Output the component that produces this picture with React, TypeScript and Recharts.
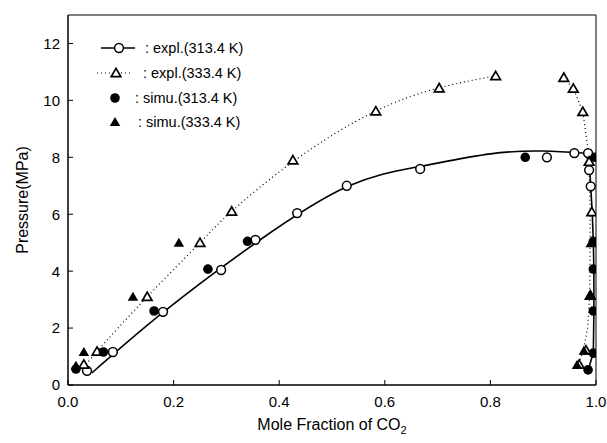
import React from "react";
import { ScatterChart, Scatter, XAxis, YAxis, ReferenceArea, Legend } from "recharts";

type Pt = { x: number; y: number };

const FONT = '"Liberation Sans", Arial, sans-serif';

const xTicks = [0, 0.2, 0.4, 0.6, 0.8, 1.0];
const yTicks = [0, 2, 4, 6, 8, 10, 12];

const seriesNames = [
  ": expl.(313.4 K)",
  ": expl.(333.4 K)",
  ": simu.(313.4 K)",
  ": simu.(333.4 K)",
];

// experimental points, 313.4 K (open circles)
const expl313: Pt[] = [
  { x: 0.036, y: 0.5 }, { x: 0.085, y: 1.16 }, { x: 0.18, y: 2.57 },
  { x: 0.29, y: 4.04 }, { x: 0.355, y: 5.1 }, { x: 0.434, y: 6.04 },
  { x: 0.528, y: 7.0 }, { x: 0.667, y: 7.59 }, { x: 0.907, y: 8.0 },
  { x: 0.959, y: 8.15 }, { x: 0.985, y: 8.15 }, { x: 0.987, y: 7.55 },
  { x: 0.99, y: 6.98 },
];

// experimental points, 333.4 K (open triangles)
const expl333: Pt[] = [
  { x: 0.03, y: 0.72 }, { x: 0.055, y: 1.18 }, { x: 0.15, y: 3.1 },
  { x: 0.25, y: 5.0 }, { x: 0.31, y: 6.1 }, { x: 0.426, y: 7.9 },
  { x: 0.583, y: 9.62 }, { x: 0.703, y: 10.43 }, { x: 0.81, y: 10.86 },
  { x: 0.939, y: 10.8 }, { x: 0.957, y: 10.42 }, { x: 0.975, y: 9.6 },
  { x: 0.987, y: 7.85 }, { x: 0.992, y: 6.08 }, { x: 0.992, y: 5.0 },
  { x: 0.989, y: 3.15 }, { x: 0.981, y: 1.22 }, { x: 0.968, y: 0.72 },
];

// simulation, 313.4 K (filled circles)
const simu313: Pt[] = [
  { x: 0.015, y: 0.56 }, { x: 0.067, y: 1.16 }, { x: 0.163, y: 2.6 },
  { x: 0.265, y: 4.07 }, { x: 0.34, y: 5.05 }, { x: 0.866, y: 8.0 },
  { x: 0.998, y: 8.0 }, { x: 0.995, y: 5.05 }, { x: 0.995, y: 4.07 },
  { x: 0.995, y: 2.6 }, { x: 0.995, y: 1.12 }, { x: 0.985, y: 0.53 },
];

// simulation, 333.4 K (filled triangles)
const simu333: Pt[] = [
  { x: 0.015, y: 0.68 }, { x: 0.03, y: 1.16 }, { x: 0.123, y: 3.1 },
  { x: 0.21, y: 5.0 }, { x: 0.993, y: 5.0 }, { x: 0.99, y: 3.16 },
  { x: 0.977, y: 1.2 }, { x: 0.964, y: 0.7 },
];

// fitted curves
const fit313Liquid: Pt[] = [
  { x: 0.045, y: 0.42 }, { x: 0.18, y: 2.55 }, { x: 0.36, y: 5.05 },
  { x: 0.53, y: 6.98 }, { x: 0.667, y: 7.68 }, { x: 0.8, y: 8.12 },
  { x: 0.9, y: 8.22 }, { x: 0.975, y: 8.15 },
];
const fit313Vapor: Pt[] = [
  { x: 0.975, y: 8.15 }, { x: 0.987, y: 7.9 }, { x: 0.99, y: 7.0 },
  { x: 0.993, y: 6.0 }, { x: 0.995, y: 5.0 }, { x: 0.996, y: 4.0 },
  { x: 0.996, y: 2.6 }, { x: 0.995, y: 1.15 }, { x: 0.985, y: 0.5 },
];
const fit333Liquid: Pt[] = [
  { x: 0.03, y: 0.62 }, { x: 0.055, y: 1.18 }, { x: 0.15, y: 3.1 },
  { x: 0.25, y: 5.0 }, { x: 0.31, y: 6.1 }, { x: 0.43, y: 7.9 },
  { x: 0.58, y: 9.6 }, { x: 0.705, y: 10.45 }, { x: 0.81, y: 10.86 },
];
const fit333Vapor: Pt[] = [
  { x: 0.939, y: 10.8 }, { x: 0.957, y: 10.42 }, { x: 0.975, y: 9.6 },
  { x: 0.984, y: 8.4 }, { x: 0.987, y: 7.85 }, { x: 0.989, y: 6.1 },
  { x: 0.989, y: 5.0 }, { x: 0.988, y: 3.15 }, { x: 0.984, y: 2.0 },
  { x: 0.976, y: 1.2 }, { x: 0.965, y: 0.65 },
];

const NoDot = () => <g />;

const OpenCircle = (p: any) => (
  <circle cx={p.cx} cy={p.cy} r={4.4} fill="#fff" stroke="#000" strokeWidth={1.5} />
);
const FilledCircle = (p: any) => <circle cx={p.cx} cy={p.cy} r={4.8} fill="#000" />;

const triPoints = (cx: number, cy: number, s: number) =>
  `${cx},${cy - s} ${cx + s * 1.05},${cy + s * 0.8} ${cx - s * 1.05},${cy + s * 0.8}`;

const OpenTriangle = (p: any) => (
  <polygon points={triPoints(p.cx, p.cy, 4.6)} fill="#fff" stroke="#000" strokeWidth={1.7} strokeLinejoin="miter" />
);
const FilledTriangle = (p: any) => <polygon points={triPoints(p.cx, p.cy, 5)} fill="#000" />;

const LeftTick = (p: any) => (
  <g>
    <line x1={p.x + 8} x2={p.x + 13} y1={p.y} y2={p.y} stroke="#000" />
    <text x={p.x} y={p.y} dy="0.36em" textAnchor="end" fontSize={15} fontFamily={FONT} fill="#000">
      {p.payload.value}
    </text>
  </g>
);

const RightTick = (p: any) => (
  <line x1={p.x} x2={p.x - 5} y1={p.y} y2={p.y} stroke="#000" />
);

const BottomTick = (p: any) => (
  <g>
    <line x1={p.x} x2={p.x} y1={p.y - 11} y2={p.y - 16} stroke="#000" />
    <text x={p.x} y={p.y} dy="0.71em" textAnchor="middle" fontSize={15} fontFamily={FONT} fill="#000">
      {Number(p.payload.value).toFixed(1)}
    </text>
  </g>
);

const LegendBox = () => {
  const rowY = [12, 37, 62, 86];
  const txt = { fontSize: 14.5, fontFamily: FONT, fill: "#000" };
  return (
    <svg width={170} height={100}>
      <line x1={6} x2={40} y1={rowY[0]} y2={rowY[0]} stroke="#000" strokeWidth={1.5} />
      <OpenCircle cx={24} cy={rowY[0]} />
      <text x={50} y={rowY[0]} dy="0.36em" {...txt}>{seriesNames[0]}</text>
      <line x1={2} x2={38} y1={rowY[1]} y2={rowY[1]} stroke="#000" strokeWidth={1.2} strokeDasharray="1 3" />
      <OpenTriangle cx={21} cy={rowY[1]} />
      <text x={48} y={rowY[1]} dy="0.36em" {...txt}>{seriesNames[1]}</text>
      <FilledCircle cx={20} cy={rowY[2]} />
      <text x={40} y={rowY[2]} dy="0.36em" {...txt}>{seriesNames[2]}</text>
      <FilledTriangle cx={20} cy={rowY[3]} />
      <text x={43} y={rowY[3]} dy="0.36em" {...txt}>{seriesNames[3]}</text>
    </svg>
  );
};

export default function App() {
  return (
    <div style={{ position: "absolute", left: 0, top: 0, width: 607, height: 443, background: "#fff", fontFamily: FONT }}>
      <ScatterChart width={607} height={443} margin={{ top: 15, right: 11, left: 8, bottom: 18 }}>
        <XAxis
          type="number"
          dataKey="x"
          domain={[0, 1]}
          ticks={xTicks}
          tickSize={0}
          tickMargin={11}
          tick={BottomTick}
          height={40}
          stroke="#000"
          allowDataOverflow
        />
        <YAxis
          type="number"
          dataKey="y"
          domain={[0, 13]}
          ticks={yTicks}
          tickSize={0}
          tickMargin={8}
          tick={LeftTick}
          width={60}
          stroke="#000"
          allowDataOverflow
        />
        <YAxis
          yAxisId="right"
          orientation="right"
          type="number"
          domain={[0, 13]}
          ticks={yTicks}
          tickSize={0}
          tickMargin={0}
          tick={RightTick}
          width={0}
          stroke="#000"
          allowDataOverflow
        />
        <ReferenceArea x1={0} x2={1} y1={0} y2={13} fill="none" stroke="#000" strokeWidth={1} ifOverflow="visible" />
        <Legend
          layout="vertical"
          align="center"
          verticalAlign="middle"
          content={LegendBox}
          wrapperStyle={{ left: 95, top: 36, width: 170, height: 100 }}
        />

        <Scatter data={fit333Liquid} shape={NoDot} line={{ stroke: "#000", strokeWidth: 1.2, strokeDasharray: "1 3" }} lineJointType="natural" isAnimationActive={false} legendType="none" />
        <Scatter data={fit333Vapor} shape={NoDot} line={{ stroke: "#000", strokeWidth: 1.2, strokeDasharray: "1 3" }} lineJointType="linear" isAnimationActive={false} legendType="none" />
        <Scatter data={fit313Liquid} shape={NoDot} line={{ stroke: "#000", strokeWidth: 1.6 }} lineJointType="natural" isAnimationActive={false} legendType="none" />
        <Scatter data={fit313Vapor} shape={NoDot} line={{ stroke: "#000", strokeWidth: 1.6 }} lineJointType="linear" isAnimationActive={false} legendType="none" />

        <Scatter data={expl313} shape={OpenCircle} isAnimationActive={false} />
        <Scatter data={expl333} shape={OpenTriangle} isAnimationActive={false} />
        <Scatter data={simu313} shape={FilledCircle} isAnimationActive={false} />
        <Scatter data={simu333} shape={FilledTriangle} isAnimationActive={false} />
      </ScatterChart>

      <div style={{ position: "absolute", left: 0, width: 664, top: 415, textAlign: "center", fontSize: 16, color: "#000", lineHeight: "20px" }}>
        Mole Fraction of CO<sub style={{ fontSize: 11 }}>2</sub>
      </div>
      <div
        style={{
          position: "absolute",
          left: 23,
          top: 200,
          transform: "translate(-50%, -50%) rotate(-90deg)",
          fontSize: 16,
          color: "#000",
          whiteSpace: "nowrap",
        }}
      >
        Pressure(MPa)
      </div>
    </div>
  );
}
